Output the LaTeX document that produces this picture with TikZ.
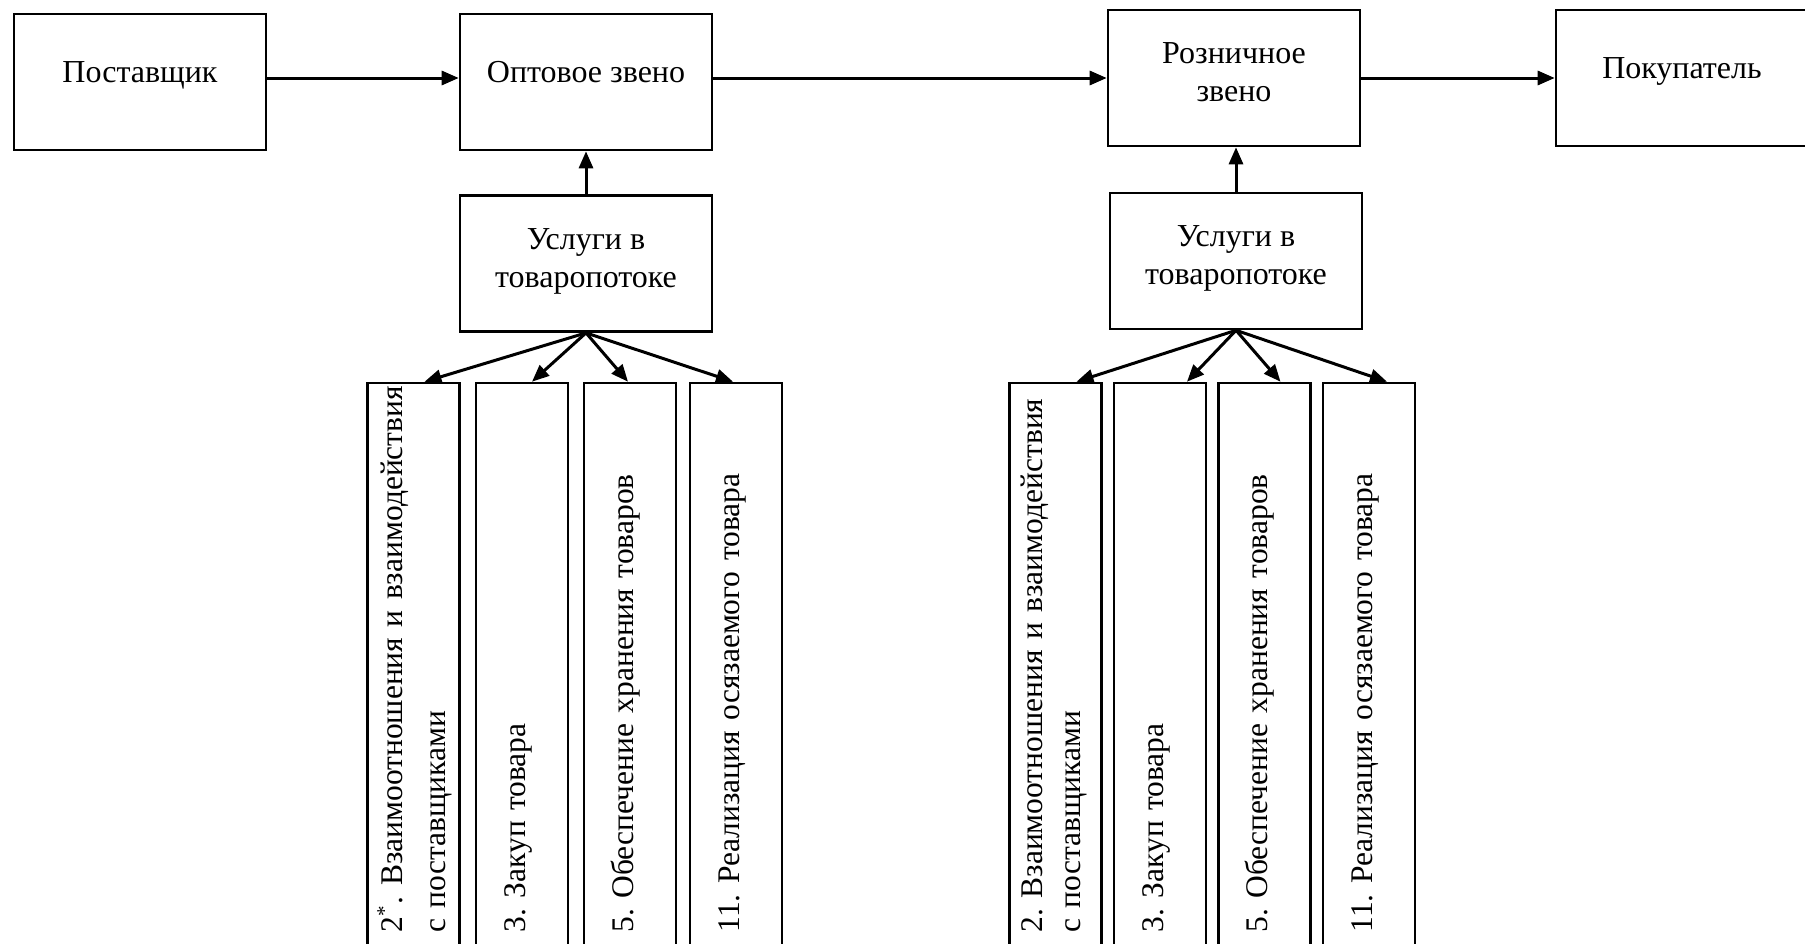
\documentclass[tikz,border=0pt]{standalone}
\usepackage{fontspec}
\setmainfont{Liberation Serif}
\frenchspacing
\usetikzlibrary{arrows.meta,positioning,calc}
\tikzset{
  box/.style={draw,line width=2.6pt,minimum width=252pt,minimum height=136pt,inner sep=0pt,align=center,text height=22pt,text depth=22pt},
  twoline/.style={text height=60pt,text depth=13pt},
  vbox/.style={draw,line width=2.6pt,rotate=90,minimum width=577pt,minimum height=92pt,inner sep=0pt,text width=522pt,align=left,text height=22pt,text depth=16pt,font=\fontsize{31.5}{38}\selectfont},
  arr/.style={-{Triangle[length=17pt,width=14pt]},line width=3pt}
}
\newcommand{\starmark}{\raisebox{11pt}{\fontsize{21}{21}\selectfont*}}

\begin{document}
\begin{tikzpicture}[x=1pt,y=-1pt,font=\fontsize{32}{38}\selectfont]
  \useasboundingbox (0,0) rectangle (1805,943);
  \clip (0,0) rectangle (1805,943);
  \node[box] (sup) at (140,82) {Поставщик};
  \node[box] (opt) at (586,82) {Оптовое звено};
  \node[box,twoline] (rozn) at (1234,78) {Розничное\\звено};
  \node[box] (pok) at (1682,78) {Покупатель};
  \node[box,twoline,below=43pt of opt] (svcw) {Услуги в\\товаропотоке};
  \node[box,twoline] (svcr) at (1236,261) {Услуги в\\товаропотоке};

  \node[vbox,text depth=45pt] (w1) at (413.5,671.5) {\mbox{2\starmark\hspace{2pt}. Взаимоотношения и взаимодействия}\\[5pt]с поставщиками};
  \node[vbox] (w2) at (522,671.5) {3. Закуп товара};
  \node[vbox] (w3) at (630,671.5) {5. Обеспечение хранения товаров};
  \node[vbox] (w4) at (736,671.5) {11. Реализация осязаемого товара};
  \node[vbox,text depth=49pt] (r1) at (1055.5,671.5) {\mbox{2. Взаимоотношения и взаимодействия}\\с поставщиками};
  \node[vbox] (r2) at (1160,671.5) {3. Закуп товара};
  \node[vbox] (r3) at (1264.5,671.5) {5. Обеспечение хранения товаров};
  \node[vbox] (r4) at (1369,671.5) {11. Реализация осязаемого товара};

  \draw[arr] ([yshift=4pt]sup.east) -- ([yshift=4pt]opt.west);
  \draw[arr] ([yshift=4pt]opt.east) -- (rozn.west);
  \draw[arr] (rozn) -- (pok);
  \draw[arr] (svcw) -- (opt);
  \draw[arr] (svcr.north) -- (svcr.north |- rozn.south);

  \draw[arr] (svcw.south) -- ([xshift=11pt]w1.east);
  \draw[arr] (svcw.south) -- ([xshift=10pt]w2.east);
  \draw[arr] (svcw.south) -- ([xshift=-2pt]w3.east);
  \draw[arr] (svcw.south) -- ([xshift=-3pt]w4.east);
  \draw[arr] (svcr.south) -- ([xshift=21pt]r1.east);
  \draw[arr] (svcr.south) -- ([xshift=27pt]r2.east);
  \draw[arr] (svcr.south) -- ([xshift=16pt]r3.east);
  \draw[arr] (svcr.south) -- ([xshift=18pt]r4.east);
\end{tikzpicture}
\end{document}
